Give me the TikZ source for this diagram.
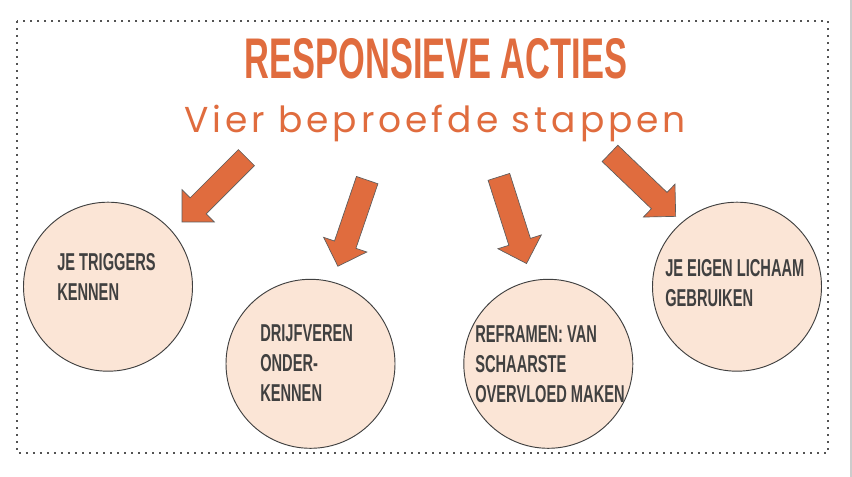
\documentclass[tikz,border=0pt]{standalone}
\usepackage{fontspec}
\setmainfont{Liberation Sans}
\newfontfamily\smalfont[FakeStretch=0.6]{Liberation Sans}
\newfontfamily\handfont[LetterSpace=11]{Poppins}
\usetikzlibrary{shapes.arrows}

\definecolor{accent}{HTML}{E06C3E}
\definecolor{peach}{HTML}{FBE5D6}
\definecolor{ink}{HTML}{404040}

\begin{document}
\begin{tikzpicture}[
  x=0.75pt, y=-0.75pt,
  circ/.style={circle, draw=ink, line width=0.7pt, fill=peach, minimum size=126.75pt, inner sep=0pt},
  stap/.style={anchor=north west, inner sep=0pt, align=left, text=ink, font=\smalfont\bfseries\fontsize{18.3}{22.5}\selectfont},
  bigarrow/.style={single arrow, draw=ink!85, line width=0.5pt, fill=accent, anchor=tip, minimum height=68.25pt, inner xsep=0pt, inner ysep=8.25pt, single arrow head extend=8.6pt}
]
\useasboundingbox[fill=white] (0,0) rectangle (852,477);

% frame
\draw[gray!40, line width=1.1pt] (851,0) -- (851,477);
\draw[ink!90, line width=1.4pt, dash pattern=on 1.4pt off 3.85pt] (17,21) rectangle (828,453);

% heading
\node[text=accent, font=\smalfont\bfseries\fontsize{43}{50}\selectfont, anchor=base, inner sep=0pt] (titel) at (436,79) {RESPONSIEVE ACTIES};
\node[text=accent, font=\handfont\fontsize{27}{32}\selectfont, anchor=base, inner sep=0pt] (ondertitel) at (435,133) {Vier beproefde stappen};

% circles
\node[circ] (c1) at (108,286.7) {};
\node[circ] (c2) at (310.5,363.8) {};
\node[circ] (c3) at (548.3,363.8) {};
\node[circ] (c4) at (737,286.7) {};

\node[stap] (t1) at (57,253.3) {JE TRIGGERS\\KENNEN};
\node[stap] (t2) at (260,324) {DRIJFVEREN\\ONDER-\\KENNEN};
\node[stap] (t3) at (475,325) {REFRAMEN: VAN\\SCHAARSTE\\OVERVLOED MAKEN};
\node[stap] (t4) at (665,259) {JE EIGEN LICHAAM\\GEBRUIKEN};

% arrows
\node[bigarrow, rotate=-135] (pijl1) at (181.7,222.3) {};
\node[bigarrow, rotate=-108.8] (pijl2) at (337.7,266.7) {};
\node[bigarrow, rotate=-72.3] (pijl3) at (526.7,264) {};
\node[bigarrow, rotate=-43.8] (pijl4) at (676,216.7) {};

\end{tikzpicture}
\end{document}
